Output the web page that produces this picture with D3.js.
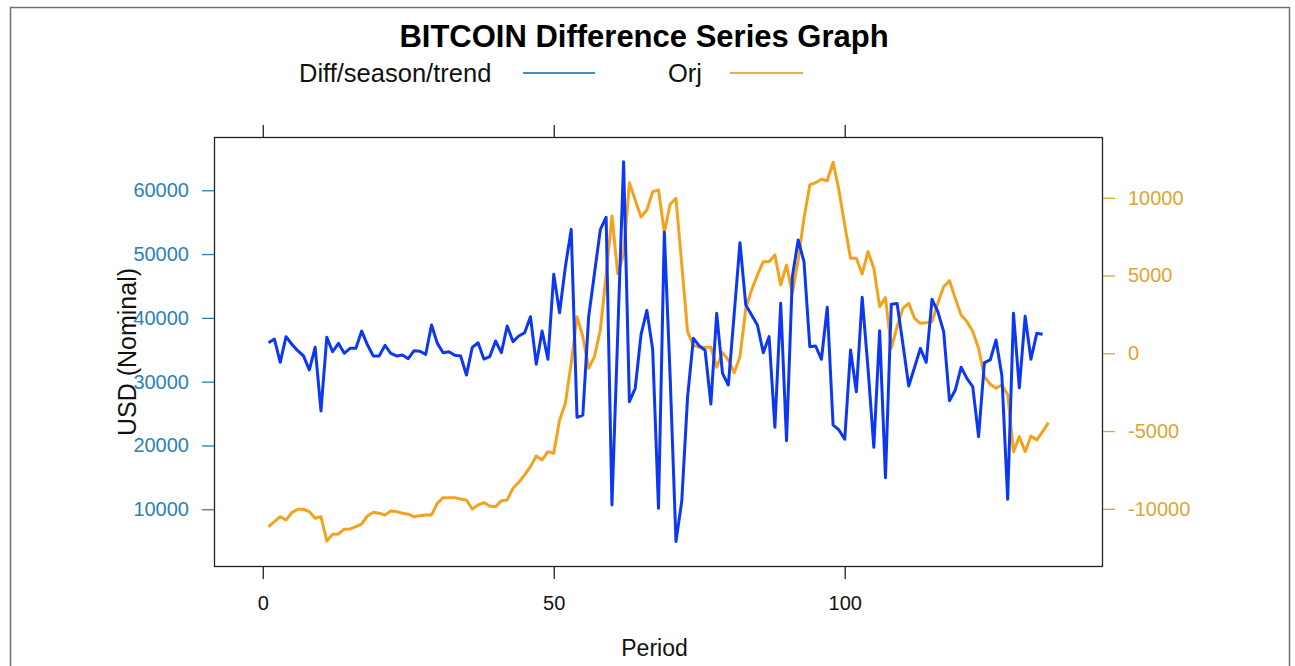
<!DOCTYPE html>
<html>
<head>
<meta charset="utf-8">
<script src="https://cdn.jsdelivr.net/npm/d3@7/dist/d3.min.js"></script>
<style>
  html, body { margin: 0; padding: 0; background: #ffffff; }
  svg { display: block; font-family: "Liberation Sans", Arial, Helvetica, sans-serif; }
</style>
</head>
<body>
<svg id="chart" width="1295" height="666"></svg>
<script>
// ---- data ----
const chartTitle = "BITCOIN Difference Series Graph";
const seriesNames = ["Diff/season/trend", "Orj"];
const xLabel = "Period";
const yLabel = "USD (Nominal)";

// Diff/season/trend series (right axis), periods 1..134
const diffValues = [
  680, 920, -580, 1070, 580, 170, -170, -1070, 385, -3710,
  1030, 100, 640, 0, 320, 320, 1430, 530, -170, -170,
  510, 0, -170, -110, -350, 170, 130, -65, 1820, 640,
  40, 100, -130, -170, -1400, 385, 680, -370, -220, 790,
  40, 1755, 750, 1110, 1325, 2355, -710, 1430, -385, 5080,
  2610, 5570, 7970, -4115, -3970, 2355, 5145, 7950, 8750, -9755,
  1285, 12320, -3110, -2250, 1200, 2760, 250, -9970, 7780, -1500,
  -12100, -9500, -2790, 965, 480, 200, -3260, 2570, -1290, -2040,
  2500, 7110, 3105, 2460, 1820, 40, 1070, -4760, 3215, -5620,
  4930, 7290, 5890, 425, 470, -385, 2960, -4610, -4930, -5530,
  210, -2470, 3600, -965, -6045, 1455, -8000, 3150, 3200, 580,
  -2100, -900, 320, -580, 3470, 2680, 1390, -3050, -2360, -900,
  -1610, -2150, -5360, -600, -430, 855, -1430, -9390, 2570, -2220,
  2380, -385, 1285, 1230
];

// Orj (original) series (left axis), periods 1..135
const orjValues = [
  7270, 8060, 8840, 8320, 9470, 10000, 10000, 9630, 8590, 8840,
  5030, 6080, 6130, 6860, 6910, 7270, 7700, 8950, 9530, 9370,
  9110, 9730, 9630, 9370, 9220, 8840, 9000, 9110, 9110, 10940,
  11820, 11820, 11820, 11610, 11460, 10050, 10670, 11040, 10510, 10410,
  11350, 11460, 13290, 14230, 15380, 16680, 18350, 17730, 19030, 18780,
  23990, 26610, 32880, 40190, 37050, 32100, 33920, 38100, 46700, 55970,
  46900, 50000, 61190, 58480, 55800, 56910, 59780, 60050, 53400, 57800,
  58740, 48300, 37800, 35700, 35400, 35390, 35390, 32260, 34550, 33400,
  31410, 33920, 41500, 44370, 46720, 48810, 48810, 49860, 45160, 48290,
  43850, 49070, 55610, 60830, 61190, 61720, 61500, 64390, 60050, 54560,
  49340, 49340, 46880, 50380, 47770, 41760, 43170, 35240, 38620, 41500,
  42280, 39930, 39150, 39250, 39410, 42280, 44890, 45830, 43060, 40450,
  39410, 37850, 35240, 30800, 29600, 28970, 29480, 28000, 19030, 21390,
  19030, 21490, 20860, 22170, 23580
];

const xTicks = [0, 50, 100];
const leftTicks = [10000, 20000, 30000, 40000, 50000, 60000];
const rightTicks = [-10000, -5000, 0, 5000, 10000];

// ---- layout / style ----
const panel = { left: 214, right: 1103, top: 137, bottom: 567 };
const colDiff = "#0d38f2";
const colOrj = "#f4a11d";
const colLeftText = "#2d7fb3";
const colRightText = "#dfa52c";
const colLegDiff = "#4392c4";
const colLegOrj = "#e2b046";
const font = '"Liberation Sans", Arial, Helvetica, sans-serif';
const fmt = d => String(d);

const svg = d3.select("#chart");

// outer frame
svg.append("rect").attr("x", 10.5).attr("y", 7.5).attr("width", 1279).attr("height", 700)
  .attr("fill", "none").attr("stroke", "#6f6f6f").attr("stroke-width", 1.5);

// scales (lattice-style 7% padding on x)
const n = orjValues.length;
const xPad = 0.07 * (n - 1);
const x = d3.scaleLinear().domain([1 - xPad, n + xPad]).range([panel.left, panel.right]);
const yL = d3.scaleLinear().domain([950, 68350]).range([panel.bottom, panel.top]);
const yR = d3.scaleLinear().domain([-13743, 13910]).range([panel.bottom, panel.top]);

const orjData = orjValues.map((v, i) => ({ x: i + 1, y: v }));
const diffData = diffValues.map((v, i) => ({ x: i + 1, y: v }));

// clip
svg.append("clipPath").attr("id", "clip").append("rect")
  .attr("x", panel.left).attr("y", panel.top)
  .attr("width", panel.right - panel.left).attr("height", panel.bottom - panel.top);

const g = svg.append("g").attr("clip-path", "url(#clip)");
g.append("path").datum(orjData)
  .attr("fill", "none").attr("stroke", colOrj).attr("stroke-width", 3)
  .attr("stroke-linejoin", "round")
  .attr("d", d3.line().x(d => x(d.x)).y(d => yL(d.y)));
g.append("path").datum(diffData)
  .attr("fill", "none").attr("stroke", colDiff).attr("stroke-width", 3)
  .attr("stroke-linejoin", "round")
  .attr("d", d3.line().x(d => x(d.x)).y(d => yR(d.y)));

// panel box
svg.append("rect").attr("x", panel.left + 0.5).attr("y", panel.top + 0.5)
  .attr("width", panel.right - panel.left - 1).attr("height", panel.bottom - panel.top - 1)
  .attr("fill", "none").attr("stroke", "#222").attr("stroke-width", 1.3);

// axes
const tickLen = 12;
const axB = d3.axisBottom(x).tickValues(xTicks).tickSize(tickLen).tickPadding(17).tickFormat(fmt);
const gB = svg.append("g").attr("transform", `translate(0,${panel.bottom})`).call(axB);
gB.select(".domain").remove();
gB.selectAll("line").attr("stroke", "#222").attr("stroke-width", 1.3);
gB.selectAll("text").attr("font-size", 20).attr("font-family", font).attr("fill", "#111");

const axT = d3.axisTop(x).tickValues(xTicks).tickSize(tickLen).tickFormat("");
const gT = svg.append("g").attr("transform", `translate(0,${panel.top})`).call(axT);
gT.select(".domain").remove();
gT.selectAll("line").attr("stroke", "#222").attr("stroke-width", 1.3);

const axL = d3.axisLeft(yL).tickValues(leftTicks).tickSize(tickLen).tickPadding(13).tickFormat(fmt);
const gL = svg.append("g").attr("transform", `translate(${panel.left},0)`).call(axL);
gL.select(".domain").remove();
gL.selectAll("line").attr("stroke", colLeftText).attr("stroke-width", 1.3);
gL.selectAll("text").attr("font-size", 20).attr("font-family", font).attr("fill", colLeftText);

const axR = d3.axisRight(yR).tickValues(rightTicks).tickSize(tickLen).tickPadding(13).tickFormat(fmt);
const gR = svg.append("g").attr("transform", `translate(${panel.right},0)`).call(axR);
gR.select(".domain").remove();
gR.selectAll("line").attr("stroke", colRightText).attr("stroke-width", 1.3);
gR.selectAll("text").attr("font-size", 20).attr("font-family", font).attr("fill", colRightText);

// axis titles
svg.append("text").attr("x", (panel.left + panel.right) / 2 - 4).attr("y", 656)
  .attr("text-anchor", "middle").attr("font-size", 23).attr("font-family", font).attr("fill", "#111")
  .text(xLabel);
svg.append("text").attr("transform", `translate(136,${(panel.top + panel.bottom) / 2}) rotate(-90)`)
  .attr("text-anchor", "middle").attr("font-size", 25).attr("font-family", font).attr("fill", "#111")
  .text(yLabel);

// title
svg.append("text").attr("x", 644).attr("y", 47)
  .attr("text-anchor", "middle").attr("font-size", 31).attr("font-weight", "bold")
  .attr("font-family", font).attr("fill", "#000").text(chartTitle);

// legend
const legend = [
  { name: seriesNames[0], tx: 299, lx1: 523, lx2: 595, col: colLegDiff },
  { name: seriesNames[1], tx: 668, lx1: 730, lx2: 803, col: colLegOrj }
];
const lg = svg.append("g");
legend.forEach(d => {
  lg.append("text").attr("x", d.tx).attr("y", 82).attr("font-size", 25.5)
    .attr("font-family", font).attr("fill", "#111").text(d.name);
  lg.append("line").attr("x1", d.lx1).attr("x2", d.lx2).attr("y1", 73).attr("y2", 73)
    .attr("stroke", d.col).attr("stroke-width", 2);
});
</script>
</body>
</html>
